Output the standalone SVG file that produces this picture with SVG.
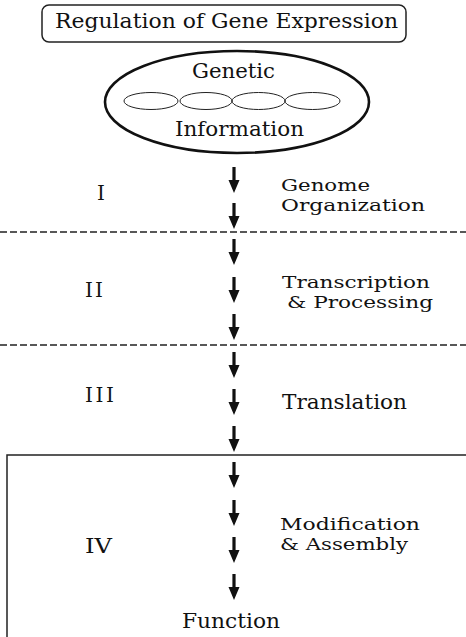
<svg xmlns="http://www.w3.org/2000/svg" xmlns:xlink="http://www.w3.org/1999/xlink" width="466" height="637" viewBox="0 0 466 637">
<style>
text{font-family:"DejaVu Serif","Liberation Serif",serif;font-size:20px;fill:#111;}
.two{font-size:17px;}
.sep{stroke:#222;stroke-width:1.3;stroke-dasharray:7 3;fill:none;}
.arrow{fill:#111;}
</style>
<defs>
<path id="arr" d="M-1.6,0 H1.6 V13 H5.5 L0,26 L-5.5,13 H-1.6 Z"/>
</defs>
<rect width="466" height="637" fill="#fff"/>
<g id="title">
<rect x="42" y="5" width="364" height="37" rx="7" fill="none" stroke="#222" stroke-width="1.5"/>
<text x="55" y="28" textLength="343" lengthAdjust="spacingAndGlyphs">Regulation of Gene Expression</text>
</g>
<g id="genetic-information">
<ellipse cx="237" cy="102" rx="132" ry="51" fill="none" stroke="#111" stroke-width="2.6"/>
<ellipse cx="151" cy="101" rx="27" ry="8.5" fill="none" stroke="#222" stroke-width="1"/>
<ellipse cx="206" cy="101" rx="26" ry="8.5" fill="none" stroke="#222" stroke-width="1"/>
<ellipse cx="258.5" cy="101" rx="26.5" ry="8.5" fill="none" stroke="#222" stroke-width="1"/>
<ellipse cx="312.5" cy="101" rx="27.5" ry="8.5" fill="none" stroke="#222" stroke-width="1"/>
<text x="192" y="78" textLength="83" lengthAdjust="spacingAndGlyphs">Genetic</text>
<text x="175" y="136" textLength="129" lengthAdjust="spacingAndGlyphs">Information</text>
</g>
<g id="stage-I">
<text x="97" y="200">I</text>
<text class="two" x="281" y="191" textLength="89" lengthAdjust="spacingAndGlyphs">Genome</text>
<text class="two" x="281" y="211" textLength="144" lengthAdjust="spacingAndGlyphs">Organization</text>
</g>
<g id="stage-II">
<text x="85" y="297" textLength="18" lengthAdjust="spacing">II</text>
<text class="two" x="282" y="288" textLength="148" lengthAdjust="spacingAndGlyphs">Transcription</text>
<text class="two" x="287" y="308" textLength="146" lengthAdjust="spacingAndGlyphs">&amp; Processing</text>
</g>
<g id="stage-III">
<text x="85" y="402" textLength="29" lengthAdjust="spacing">III</text>
<text x="282" y="409" textLength="125" lengthAdjust="spacingAndGlyphs">Translation</text>
</g>
<g id="stage-IV">
<polyline points="7,637 7,455 466,455" fill="none" stroke="#222" stroke-width="1.5"/>
<text x="85" y="553" textLength="27" lengthAdjust="spacingAndGlyphs">IV</text>
<text class="two" x="280" y="530" textLength="140" lengthAdjust="spacingAndGlyphs">Modification</text>
<text class="two" x="280" y="550" textLength="128" lengthAdjust="spacingAndGlyphs">&amp; Assembly</text>
</g>
<g id="function">
<text x="182" y="628" textLength="98" lengthAdjust="spacingAndGlyphs">Function</text>
</g>
<g id="separators">
<line class="sep" x1="0" y1="232" x2="466" y2="232"/>
<line class="sep" x1="0" y1="345" x2="466" y2="345"/>
</g>
<g id="connectors" class="arrow">
<use xlink:href="#arr" x="234" y="167"/>
<use xlink:href="#arr" x="234" y="203"/>
<use xlink:href="#arr" x="234" y="239"/>
<use xlink:href="#arr" x="234" y="277"/>
<use xlink:href="#arr" x="234" y="314"/>
<use xlink:href="#arr" x="234" y="352"/>
<use xlink:href="#arr" x="234" y="389"/>
<use xlink:href="#arr" x="234" y="426"/>
<use xlink:href="#arr" x="234" y="462"/>
<use xlink:href="#arr" x="234" y="500"/>
<use xlink:href="#arr" x="234" y="537"/>
<use xlink:href="#arr" x="234" y="574"/>
</g>
</svg>
